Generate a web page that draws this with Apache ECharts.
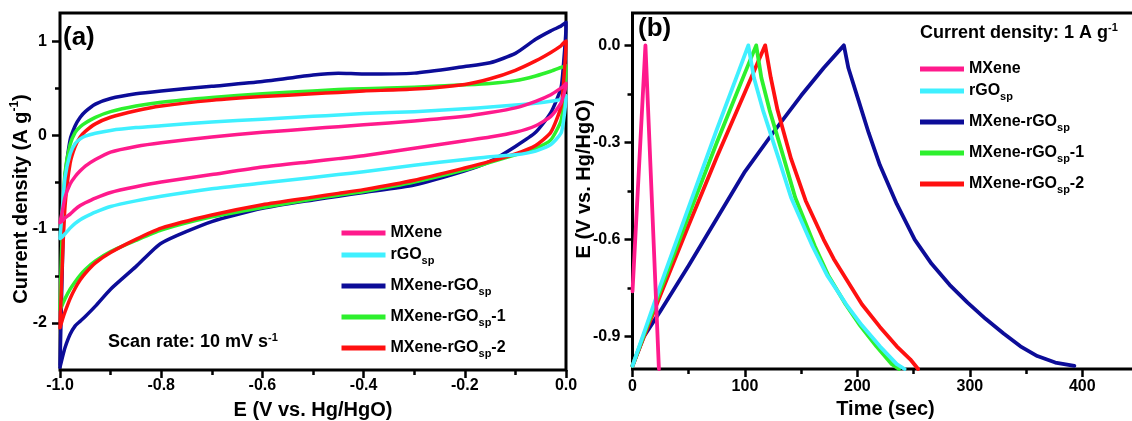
<!DOCTYPE html>
<html>
<head>
<meta charset="utf-8">
<script src="https://cdn.jsdelivr.net/npm/echarts@6/dist/echarts.min.js"></script>
<style>
  html, body { margin: 0; padding: 0; background: #fff; }
  #chart { width: 1132px; height: 421px; }
</style>
</head>
<body>
<div id="chart"></div>
<script>
// ---------- (a) cyclic voltammetry, 10 mV/s ----------
const cvPotential = [-1.0, -0.995, -0.99, -0.98, -0.97, -0.96, -0.95, -0.93, -0.9, -0.85, -0.8, -0.7, -0.6,
                     -0.5, -0.45, -0.4, -0.3, -0.2, -0.15, -0.1, -0.06, -0.03, -0.01, -0.005, 0.0];

// anodic sweep (-1.0 V -> 0 V), current density in A/g at each cvPotential
const cvMXeneAnodic   = [-0.93, -0.80, -0.66, -0.52, -0.44, -0.38, -0.33, -0.26, -0.18, -0.12, -0.08, -0.02, 0.03,
                          0.07, 0.09, 0.11, 0.15, 0.20, 0.24, 0.29, 0.36, 0.43, 0.50, 0.52, 0.55];
const cvRGOAnodic     = [-1.10, -0.75, -0.45, -0.20, -0.09, -0.04, -0.01, 0.02, 0.05, 0.08, 0.10, 0.14, 0.17,
                          0.20, 0.215, 0.23, 0.25, 0.28, 0.30, 0.32, 0.34, 0.36, 0.38, 0.40, 0.42];
const cvHybridAnodic  = [-2.45, -1.30, -0.45, -0.05, 0.10, 0.19, 0.25, 0.33, 0.39, 0.44, 0.47, 0.52, 0.57,
                          0.64, 0.66, 0.65, 0.66, 0.73, 0.77, 0.87, 1.02, 1.11, 1.16, 1.18, 1.20];
const cvHybrid1Anodic = [-1.85, -0.90, -0.40, -0.10, 0.03, 0.09, 0.13, 0.19, 0.25, 0.31, 0.35, 0.40, 0.44,
                          0.47, 0.485, 0.495, 0.51, 0.535, 0.55, 0.58, 0.63, 0.68, 0.72, 0.73, 0.74];
const cvHybrid2Anodic = [-2.05, -1.30, -0.75, -0.30, -0.12, -0.02, 0.04, 0.12, 0.19, 0.26, 0.31, 0.37, 0.41,
                          0.44, 0.455, 0.47, 0.49, 0.54, 0.60, 0.69, 0.79, 0.88, 0.95, 0.98, 1.00];

// cathodic sweep (0 V -> -1.0 V), listed at the same cvPotential points
const cvMXeneCathodic   = [-0.93, -0.91, -0.88, -0.84, -0.79, -0.75, -0.72, -0.67, -0.61, -0.55, -0.50, -0.42, -0.34,
                           -0.28, -0.25, -0.22, -0.14, -0.06, -0.02, 0.03, 0.10, 0.20, 0.34, 0.42, 0.53];
const cvRGOCathodic     = [-1.10, -1.08, -1.05, -0.99, -0.94, -0.90, -0.87, -0.82, -0.76, -0.70, -0.65, -0.57, -0.51,
                           -0.45, -0.42, -0.39, -0.32, -0.26, -0.23, -0.21, -0.17, -0.10, 0.02, 0.15, 0.40];
const cvHybridCathodic  = [-2.47, -2.36, -2.26, -2.12, -2.03, -1.98, -1.93, -1.82, -1.64, -1.40, -1.15, -0.92, -0.78,
                           -0.69, -0.65, -0.61, -0.53, -0.38, -0.28, -0.12, 0.03, 0.24, 0.50, 0.75, 1.15];
const cvHybrid1Cathodic = [-1.86, -1.80, -1.74, -1.64, -1.56, -1.49, -1.43, -1.34, -1.24, -1.12, -1.01, -0.87, -0.77,
                           -0.68, -0.64, -0.60, -0.50, -0.37, -0.29, -0.21, -0.14, -0.05, 0.15, 0.35, 0.72];
const cvHybrid2Cathodic = [-2.05, -1.96, -1.88, -1.74, -1.63, -1.54, -1.47, -1.36, -1.25, -1.11, -0.99, -0.85, -0.74,
                           -0.66, -0.62, -0.58, -0.48, -0.35, -0.28, -0.20, -0.11, 0.03, 0.30, 0.55, 0.98];

// ---------- (b) galvanostatic charge-discharge, 1 A/g ----------
const gcdMXeneTime     = [0, 11.5, 23.5];
const gcdMXeneE        = [-0.76, 0.0, -1.0];
const gcdRGOTime       = [0, 25, 50, 75, 95, 103, 108, 116, 130, 141, 160, 173, 190, 204, 220, 235, 242];
const gcdRGOE          = [-0.99, -0.74, -0.50, -0.26, -0.075, 0.0, -0.10, -0.20, -0.35, -0.47, -0.62, -0.71, -0.80, -0.865, -0.93, -0.985, -1.0];
const gcdHybridTime    = [0, 10, 25, 50, 75, 100, 125, 150, 170, 188, 192, 201, 210, 220, 235, 251, 266, 282, 298, 314, 330, 345, 360, 376, 393];
const gcdHybridE       = [-0.99, -0.90, -0.82, -0.68, -0.535, -0.39, -0.27, -0.155, -0.07, 0.0, -0.07, -0.17, -0.27, -0.37, -0.49, -0.60, -0.675, -0.74, -0.795, -0.845, -0.89, -0.93, -0.96, -0.98, -0.99];
const gcdHybrid1Time   = [0, 25, 50, 75, 100, 110, 114.6, 121.9, 134.7, 144.7, 162.1, 174, 189.5, 202.3, 216.9, 230.6, 237];
const gcdHybrid1E      = [-0.99, -0.755, -0.525, -0.30, -0.085, 0.0, -0.10, -0.20, -0.35, -0.47, -0.62, -0.71, -0.80, -0.865, -0.93, -0.985, -1.0];
const gcdHybrid2Time   = [0, 25, 50, 75, 100, 118, 123, 129, 141, 154, 170, 179, 195, 204, 220, 235, 247, 254];
const gcdHybrid2E      = [-0.99, -0.77, -0.555, -0.345, -0.145, 0.0, -0.10, -0.20, -0.35, -0.48, -0.60, -0.66, -0.75, -0.80, -0.87, -0.93, -0.97, -1.0];

// ---------- names and tick positions ----------
const sampleNames = ['MXene', 'rGOsp', 'MXene-rGOsp', 'MXene-rGOsp-1', 'MXene-rGOsp-2'];
const cvMajorTicks  = [-2, -1, 0, 1];
const cvMinorTicks  = [-1.5, -0.5, 0.5];
const gcdMajorTicks = [-0.9, -0.6, -0.3, 0.0];
const gcdMinorTicks = [-0.75, -0.45, -0.15];

// ---------- styling ----------
const FONT = "'Liberation Sans', Arial, Helvetica, sans-serif";
const COLORS = {
  'MXene': '#ff1a8c',
  'rGOsp': '#3ff0ff',
  'MXene-rGOsp': '#0c0c98',
  'MXene-rGOsp-1': '#2df02d',
  'MXene-rGOsp-2': '#ff1010'
};

// rich-text styles: every token keeps the same box height (lh) so rows stay evenly spaced;
// sub/sup are moved by `shift` px through padding inside that box
function richStyles(main, small, lh, shift) {
  const base = { fontFamily: FONT, fontWeight: 'bold', color: '#000' };
  return {
    m: Object.assign({ fontSize: main, lineHeight: lh, height: lh }, base),
    sub: Object.assign({ fontSize: small, lineHeight: lh, height: lh - 2 * shift, padding: [2 * shift, 0, 0, 0] }, base),
    sup: Object.assign({ fontSize: small, lineHeight: lh, height: lh - 2 * shift, padding: [0, 0, 2 * shift, 0] }, base)
  };
}

// "MXene-rGOsp-1" -> MXene-rGO with subscript sp, then -1
function richName(name) {
  const i = name.indexOf('sp');
  if (i < 0) return '{m|' + name + '}';
  const tail = name.slice(i + 2);
  return '{m|' + name.slice(0, i) + '}{sub|sp}' + (tail ? '{m|' + tail + '}' : '');
}

function pairs(xs, ys) { return xs.map((x, i) => [x, ys[i]]); }
function cvLoop(anodic, cathodic) {
  const pts = pairs(cvPotential, anodic);
  for (let i = cvPotential.length - 1; i >= 0; i--) pts.push([cvPotential[i], cathodic[i]]);
  return pts;
}

const cvData = {
  'MXene': cvLoop(cvMXeneAnodic, cvMXeneCathodic),
  'rGOsp': cvLoop(cvRGOAnodic, cvRGOCathodic),
  'MXene-rGOsp': cvLoop(cvHybridAnodic, cvHybridCathodic),
  'MXene-rGOsp-1': cvLoop(cvHybrid1Anodic, cvHybrid1Cathodic),
  'MXene-rGOsp-2': cvLoop(cvHybrid2Anodic, cvHybrid2Cathodic)
};
const gcdData = {
  'MXene': pairs(gcdMXeneTime, gcdMXeneE),
  'rGOsp': pairs(gcdRGOTime, gcdRGOE),
  'MXene-rGOsp': pairs(gcdHybridTime, gcdHybridE),
  'MXene-rGOsp-1': pairs(gcdHybrid1Time, gcdHybrid1E),
  'MXene-rGOsp-2': pairs(gcdHybrid2Time, gcdHybrid2E)
};

// drawing order: later series sit on top
const cvOrder  = ['MXene-rGOsp', 'MXene-rGOsp-1', 'MXene-rGOsp-2', 'rGOsp', 'MXene'];
const gcdOrder = ['MXene-rGOsp', 'MXene-rGOsp-2', 'MXene-rGOsp-1', 'rGOsp', 'MXene'];

const series = [];
cvOrder.forEach(name => series.push({
  name, type: 'line', xAxisIndex: 0, yAxisIndex: 0, data: cvData[name],
  showSymbol: false, smooth: 0.2, color: COLORS[name],
  lineStyle: { width: 3.5, color: COLORS[name], cap: 'round', join: 'round' }
}));
gcdOrder.forEach(name => series.push({
  name, type: 'line', xAxisIndex: 1, yAxisIndex: 2, data: gcdData[name],
  showSymbol: false, smooth: false, color: COLORS[name],
  lineStyle: { width: 3.8, color: COLORS[name], cap: 'round', join: 'round' }
}));

const tickFont = { fontFamily: FONT, fontWeight: 'bold', fontSize: 16, color: '#000' };
const nameRich = richStyles(20, 12, 24, 6);
const legendRich = richStyles(16, 11, 18, 6);
const tickLine = { color: '#000', width: 2.5 };

function legendBlock(names, left, top) {
  return {
    data: names, left, top, orient: 'vertical', padding: 0, itemGap: 10.5,
    icon: 'rect', itemWidth: 44, itemHeight: 5, selectedMode: false,
    formatter: richName,
    textStyle: { fontFamily: FONT, fontWeight: 'bold', fontSize: 16, color: '#000', lineHeight: 18, rich: legendRich }
  };
}

function minorAxis(gridIndex, min, max, ticks) {
  return {
    type: 'value', gridIndex, min, max, position: 'left', offset: 0,
    axisLine: { show: false, onZero: false }, axisLabel: { show: false }, splitLine: { show: false },
    axisTick: { show: true, length: 5, customValues: ticks, lineStyle: tickLine }
  };
}

const option = {
  animation: false,
  backgroundColor: '#fff',
  grid: [
    { left: 60, top: 13, width: 506, height: 357, show: true, borderColor: '#000', borderWidth: 3,
      backgroundColor: 'transparent', containLabel: false, outerBoundsMode: 'none' },
    { left: 632.5, top: 13, width: 506, height: 356, show: true, borderColor: '#000', borderWidth: 3,
      backgroundColor: 'transparent', containLabel: false, outerBoundsMode: 'none' }
  ],
  xAxis: [
    { type: 'value', gridIndex: 0, min: -1, max: 0, interval: 0.2, position: 'bottom',
      name: '{m|E (V vs. Hg/HgO)}', nameLocation: 'middle', nameGap: 28, nameMoveOverlap: false,
      nameTextStyle: { rich: nameRich },
      axisLine: { show: false, onZero: false },
      axisTick: { show: true, inside: false, length: 8, lineStyle: tickLine },
      minorTick: { show: true, splitNumber: 2, length: 5, lineStyle: tickLine },
      axisLabel: Object.assign({ margin: 8, formatter: v => v.toFixed(1) }, tickFont),
      splitLine: { show: false }, minorSplitLine: { show: false } },
    { type: 'value', gridIndex: 1, min: 0, max: 450, interval: 100, position: 'bottom',
      name: '{m|Time (sec)}', nameLocation: 'middle', nameGap: 28, nameMoveOverlap: false,
      nameTextStyle: { rich: nameRich },
      axisLine: { show: false, onZero: false },
      axisTick: { show: true, inside: false, length: 8, lineStyle: tickLine },
      minorTick: { show: true, splitNumber: 2, length: 5, lineStyle: tickLine },
      axisLabel: Object.assign({ margin: 10, showMaxLabel: false, formatter: v => String(v) }, tickFont),
      splitLine: { show: false }, minorSplitLine: { show: false } }
  ],
  yAxis: [
    { type: 'value', gridIndex: 0, min: -2.5, max: 1.3, position: 'left',
      name: '{m|Current density (A g}{sup|-1}{m|)}', nameLocation: 'middle', nameRotate: 90,
      nameGap: 27, nameMoveOverlap: false,
      nameTextStyle: { rich: nameRich, padding: [0, 15, 0, 0] },
      axisLine: { show: false, onZero: false },
      axisTick: { show: true, length: 8, customValues: cvMajorTicks, lineStyle: tickLine },
      axisLabel: Object.assign({ margin: 13, customValues: cvMajorTicks, formatter: v => String(v) }, tickFont),
      splitLine: { show: false } },
    minorAxis(0, -2.5, 1.3, cvMinorTicks),
    { type: 'value', gridIndex: 1, min: -1.0, max: 0.1, position: 'left',
      name: '{m|E (V vs. Hg/HgO)}', nameLocation: 'middle', nameRotate: 90,
      nameGap: 36, nameMoveOverlap: false,
      nameTextStyle: { rich: nameRich, padding: [0, 0, 0, 24] },
      axisLine: { show: false, onZero: false },
      axisTick: { show: true, length: 8, customValues: gcdMajorTicks, lineStyle: tickLine },
      axisLabel: Object.assign({ margin: 12, customValues: gcdMajorTicks, formatter: v => v.toFixed(1) }, tickFont),
      splitLine: { show: false } },
    minorAxis(1, -1.0, 0.1, gcdMinorTicks)
  ],
  legend: [
    legendBlock([sampleNames[0]], 341.5, 224),
    legendBlock(sampleNames.slice(1), 341.5, 246),
    legendBlock([sampleNames[0]], 920, 60),
    legendBlock(sampleNames.slice(1), 920, 82)
  ],
  graphic: [
    { type: 'text', x: 63, y: 37.5, z: 100,
      style: { text: '(a)', font: 'bold 26px ' + FONT, fill: '#000', align: 'left', verticalAlign: 'middle' } },
    { type: 'text', x: 638, y: 28.5, z: 100,
      style: { text: '(b)', font: 'bold 26px ' + FONT, fill: '#000', align: 'left', verticalAlign: 'middle' } },
    { type: 'text', x: 108, y: 342.5, z: 100,
      style: { text: '{m|Scan rate: 10 mV s}{sup|-1}', rich: richStyles(18, 11, 20, 5),
               align: 'left', verticalAlign: 'middle' } },
    { type: 'text', x: 920, y: 33, z: 100,
      style: { text: '{m|Current density: 1 A g}{sup|-1}', rich: richStyles(18, 11, 20, 5),
               align: 'left', verticalAlign: 'middle' } }
  ],
  series
};

const chart = echarts.init(document.getElementById('chart'), null, { renderer: 'canvas' });
chart.setOption(option);
</script>
</body>
</html>
